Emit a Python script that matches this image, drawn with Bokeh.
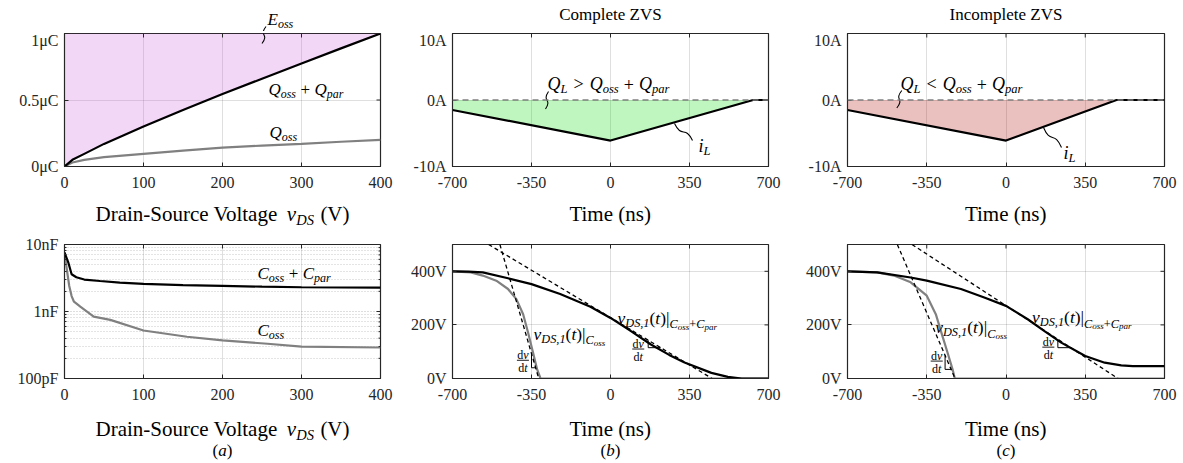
import math
from bokeh.plotting import figure
from bokeh.models import Label, FixedTicker, Span
from bokeh.layouts import column, row
from bokeh.embed import file_html
from bokeh.resources import INLINE

# ---------------- data ----------------
v_q = [0, 10, 25, 50, 100, 150, 200, 250, 300, 350, 400]
q_total = [0, 0.05, 0.095, 0.17, 0.30, 0.425, 0.545, 0.66, 0.775, 0.888, 1.0]
q_oss = [0, 0.03, 0.05, 0.07, 0.095, 0.12, 0.142, 0.157, 0.17, 0.186, 0.20]

v_c_tot = [0, 5, 9, 15, 25, 45, 70, 100, 150, 200, 250, 300, 350, 400]
c_total = [7.6, 5.3, 3.6, 3.25, 3.0, 2.85, 2.7, 2.58, 2.48, 2.41, 2.35, 2.3, 2.28, 2.27]
v_c_oss = [0, 3, 6, 9, 12, 20, 37, 58, 100, 155, 200, 257, 300, 400]
c_oss = [7.3, 4.2, 2.4, 1.7, 1.4, 1.18, 0.84, 0.75, 0.52, 0.42, 0.37, 0.33, 0.30, 0.29]

t_il_b = [-700, 0, 632, 700]
il_b = [-1.5, -6.1, 0, 0]
t_il_c = [-700, 0, 488, 700]
il_c = [-1.5, -6.1, 0, 0]

t_vt_b = [-700, -630, -566, -454, -350, -223, -89, 0, 89, 179, 260, 328, 447, 520, 581, 700]
v_vt_b = [400, 399, 396, 374, 352, 315, 268, 226, 178, 127, 88, 60, 21, 6, 0, 0]
t_vo_b = [-700, -619, -566, -506, -454, -417, -387, -365, -343, -325, -310, 700]
v_vo_b = [400, 396, 384, 365, 334, 296, 240, 171, 96, 34, 0, 0]
tan_b_steep_t = [-490, -318]
tan_b_steep_v = [500, 0]
tan_b_shal_t = [-540, 450]
tan_b_shal_v = [500, 0]

t_vt_c = [-700, -569, -421, -350, -199, -96, 0, 96, 170, 244, 350, 436, 509, 560, 700]
v_vt_c = [400, 396, 377, 365, 334, 302, 271, 221, 177, 134, 84, 59, 49, 46, 46]
t_vo_c = [-700, -569, -495, -421, -350, -310, -281, -258, -236, -226, 700]
v_vo_c = [400, 396, 384, 359, 309, 240, 159, 96, 34, 0, 0]
tan_c_steep_t = [-480, -225]
tan_c_steep_v = [500, 0]
tan_c_shal_t = [-415, 495]
tan_c_shal_v = [500, 0]

v_ticks = [0, 100, 200, 300, 400]
t_ticks = {-700: "-700", -350: "-350", 0: "0", 350: "350", 700: "700"}
q_ticks = {0: "0\u03bcC", 0.5: "0.5\u03bcC", 1: "1\u03bcC"}
c_ticks = {0.1: "100pF", 1: "1nF", 10: "10nF"}
c_minor = [0.2, 0.3, 0.4, 0.5, 0.6, 0.7, 0.8, 0.9, 2, 3, 4, 5, 6, 7, 8, 9]
i_ticks = {-10: "-10A", 0: "0A", 10: "10A"}
u_ticks = {0: "0V", 200: "200V", 400: "400V"}

# ---------------- styling / geometry ----------------
FONT = "'Liberation Serif', 'Times New Roman', serif"
TXT = "#000000"
AX = "#262626"
PINK = "#cc66dd"
GREEN = "#00dd00"
RED = "#b00800"
GRAY = "#808080"
RAISE = 0.25                   # baseline correction, fraction of font size

COL_X = [0, 400, 795]          # page x of the three columns
COL_W = [400, 395, 385]
BORDER_L = [64, 52, 52]
BORDER_R = [20, 27, 16]
FRAME_W = [316, 316, 317]
STRIP_T_H = 31
ROW1_TOP, ROW1_FH, ROW1_BOT = 2, 133, 32
STRIP_M_H = 30
ROW2_TOP, ROW2_FH, ROW2_BOT = 16, 134, 32
STRIP_B_H = 50
Y_ROW1 = STRIP_T_H
Y_STRIP_M = Y_ROW1 + ROW1_TOP + ROW1_FH + ROW1_BOT
Y_ROW2 = Y_STRIP_M + STRIP_M_H
Y_STRIP_B = Y_ROW2 + ROW2_TOP + ROW2_FH + ROW2_BOT

W_R = {' ': 250, '(': 333, ')': 333, '+': 564, '-': 333, ',': 250, '.': 250, '<': 564,
       '>': 564, '|': 200, 'A': 722, 'C': 667, 'D': 722, 'E': 611, 'I': 333, 'L': 611,
       'Q': 722, 'S': 556, 'T': 611, 'V': 722, 'Z': 611, 'a': 444, 'c': 444, 'd': 500,
       'e': 444, 'g': 500, 'i': 278, 'l': 278, 'm': 778, 'n': 500, 'o': 500, 'p': 500,
       'r': 333, 's': 389, 't': 278, 'u': 500, 'v': 500}
for _c in "0123456789":
    W_R[_c] = 500
W_I = {' ': 250, '(': 333, ')': 333, ',': 250, '1': 500, 'A': 611, 'C': 667, 'D': 722,
       'E': 611, 'L': 556, 'Q': 722, 'S': 500, 'V': 611, 'a': 500, 'b': 500, 'c': 444,
       'd': 500, 'e': 444, 'i': 278, 'l': 278, 'o': 500, 'p': 500, 'r': 389, 's': 389,
       't': 278, 'v': 444}


def run_w(r):
    if isinstance(r, (int, float)):
        return float(r)
    t, it, sz, sh = r
    tab = W_I if it else W_R
    return sum(tab.get(ch, 500) for ch in t) * sz / 1000.0


def rich(p, x, y, runs, align="left", dx=0.0, dy=0.0):
    total = sum(run_w(r) for r in runs)
    off = dx - {"left": 0.0, "center": total / 2.0, "right": total}[align]
    for r in runs:
        if not isinstance(r, (int, float)):
            t, it, sz, sh = r
            p.add_layout(Label(x=x, y=y, x_offset=off, y_offset=dy + sh + RAISE * sz,
                               text=t, text_font=FONT, text_font_size=f"{sz}px",
                               text_font_style="italic" if it else "normal",
                               text_color=TXT, text_align="left",
                               text_baseline="alphabetic"))
        off += run_w(r)


class PageMap:
    """maps page pixel coordinates onto a figure's data coordinates"""

    def __init__(self, left, top, fw, fh, xr, yr, ylog=False):
        self.left, self.top, self.fw, self.fh = left, top, fw, fh
        self.xr, self.yr, self.ylog = xr, yr, ylog

    def x(self, X):
        return self.xr[0] + (X - self.left) / self.fw * (self.xr[1] - self.xr[0])

    def y(self, Y):
        f = (self.top + self.fh - Y) / self.fh
        if self.ylog:
            a, b = math.log10(self.yr[0]), math.log10(self.yr[1])
            return 10 ** (a + f * (b - a))
        return self.yr[0] + f * (self.yr[1] - self.yr[0])


def page_text(p, m, X, Y, runs, align="left"):
    rich(p, m.x(X), m.y(Y), runs, align)


def leader(p, m, start, end, bend=5.0):
    (x0, y0), (x1, y1) = start, end
    dx, dy = x1 - x0, y1 - y0
    ln = math.hypot(dx, dy)
    nx, ny = -dy / ln, dx / ln
    c0 = (x0 + 0.65 * dx + bend * nx, y0 + 0.65 * dy + bend * ny)
    c1 = (x0 + 0.35 * dx - bend * nx, y0 + 0.35 * dy - bend * ny)
    p.bezier(x0=[m.x(x0)], y0=[m.y(y0)], x1=[m.x(x1)], y1=[m.y(y1)],
             cx0=[m.x(c0[0])], cy0=[m.y(c0[1])], cx1=[m.x(c1[0])], cy1=[m.y(c1[1])],
             line_color=TXT, line_width=1.1)


def box_ticks(p, xr, yr, xt, yt, y_minor=None):
    """tick marks on the top and right edges of the box (as MATLAB draws them)"""
    p.ray(x=list(xt), y=[yr[1]] * len(xt), length=4, length_units="screen",
          angle=-math.pi / 2, line_color=AX, line_width=1)
    p.ray(x=[xr[1]] * len(yt), y=list(yt), length=4, length_units="screen",
          angle=math.pi, line_color=AX, line_width=1)
    if y_minor:
        p.ray(x=[xr[1]] * len(y_minor), y=list(y_minor), length=2, length_units="screen",
              angle=math.pi, line_color=AX, line_width=1)


def make_fig(col, xr, yr, fh, top, bottom, y_log=False):
    p = figure(x_range=xr, y_range=yr, frame_width=FRAME_W[col], frame_height=fh,
               min_border_left=BORDER_L[col], min_border_right=BORDER_R[col],
               min_border_top=top, min_border_bottom=bottom,
               output_backend="svg", toolbar_location=None,
               y_axis_type="log" if y_log else "linear")
    p.outline_line_color = AX
    p.outline_line_width = 1.2
    p.background_fill_color = "white"
    p.border_fill_color = "white"
    for ax in p.axis:
        ax.major_label_text_font = FONT
        ax.major_label_text_font_size = "16px"
        ax.major_label_text_color = AX
        ax.axis_line_color = AX
        ax.major_tick_line_color = AX
        ax.major_tick_in = 4
        ax.major_tick_out = 0
        ax.minor_tick_line_color = None
    p.xaxis.major_label_standoff = 10
    p.yaxis.major_label_standoff = 6
    p.grid.grid_line_color = AX
    p.grid.grid_line_alpha = 0.15
    return p


def make_strip(col, h, page_top):
    w = COL_W[col]
    p = figure(width=w, height=h, frame_width=w, frame_height=h, x_range=(0, w),
               y_range=(0, h), min_border=0, toolbar_location=None, output_backend="svg",
               x_axis_location=None, y_axis_location=None)
    p.outline_line_color = None
    p.grid.visible = False
    p.background_fill_color = "white"
    p.border_fill_color = "white"
    return p, PageMap(COL_X[col], page_top, w, h, (0, w), (0, h))


def panel_map(col, row_top, border_top, fh, xr, yr, ylog=False):
    return PageMap(COL_X[col] + BORDER_L[col], row_top + border_top, FRAME_W[col], fh,
                   xr, yr, ylog)


def qsum(base, gap):
    sub = base * 0.7
    return [("Q", 1, base, 0), ("oss", 1, sub, -3.5), gap, ("+", 0, base, 0), gap,
            ("Q", 1, base, 0), ("par", 1, sub, -3.5)]


def vlabel(extra):
    r = [("v", 1, 17.5, 0), ("DS,1", 1, 12.3, -3.5), ("(", 0, 17.5, 0), ("t", 1, 17.5, 0),
         (")", 0, 17.5, 0), ("|", 0, 17.5, 0), ("C", 1, 12.3, -5), ("oss", 1, 9, -7)]
    if extra:
        r += [("+", 0, 12.3, -5), ("C", 1, 12.3, -5), ("par", 1, 9, -7)]
    return r


def dvdt(p, t, v, kx):
    rich(p, t, v, [("d", 0, 12, 0), ("v", 1, 12, 0)], "center", dy=2)
    rich(p, t, v, [("d", 0, 12, 0), ("t", 1, 12, 0)], "center", dy=-10.5)
    p.segment(x0=[t - 6 * kx], y0=[v], x1=[t + 6 * kx], y1=[v], line_color=TXT,
              line_width=0.9)


def tri(p, tl, vl, t, vbot):
    slope = (vl[1] - vl[0]) / (tl[1] - tl[0])
    vtop = vl[0] + slope * (t - tl[0])
    t2 = tl[0] + (vbot - vl[0]) / slope
    p.line([t, t, t2], [vtop, vbot, vbot], line_color=TXT, line_width=1)


VDS_RUNS = [("Drain-Source Voltage", 0, 21, 0), 6.5, ("v", 1, 21, 0), ("DS", 1, 14.5, -4),
            6.5, ("(V)", 0, 21, 0)]
TIME_RUNS = [("Time (ns)", 0, 21, 0)]
KX = 1400.0 / 316.0
CENTER_X = [COL_X[i] + BORDER_L[i] + FRAME_W[i] / 2.0 for i in range(3)]

# ---------------- text strips ----------------
sT = [make_strip(i, STRIP_T_H, 0) for i in range(3)]
sM = [make_strip(i, STRIP_M_H, Y_STRIP_M) for i in range(3)]
sB = [make_strip(i, STRIP_B_H, Y_STRIP_B) for i in range(3)]

page_text(sT[0][0], sT[0][1], 267, 23, [("E", 1, 17, 0), ("oss", 1, 12, -3.5)])
page_text(sT[1][0], sT[1][1], CENTER_X[1], 18.5, [("Complete ZVS", 0, 17, 0)], "center")
page_text(sT[2][0], sT[2][1], CENTER_X[2], 18.5, [("Incomplete ZVS", 0, 17, 0)], "center")
page_text(sM[0][0], sM[0][1], CENTER_X[0], 219, VDS_RUNS, "center")
page_text(sM[1][0], sM[1][1], CENTER_X[1], 219, TIME_RUNS, "center")
page_text(sM[2][0], sM[2][1], CENTER_X[2], 219, TIME_RUNS, "center")
page_text(sB[0][0], sB[0][1], CENTER_X[0], 434, VDS_RUNS, "center")
page_text(sB[1][0], sB[1][1], CENTER_X[1], 434, TIME_RUNS, "center")
page_text(sB[2][0], sB[2][1], CENTER_X[2], 434, TIME_RUNS, "center")
for i, letter in enumerate("abc"):
    page_text(sB[i][0], sB[i][1], CENTER_X[i], 454,
              [("(", 0, 17, 0), (letter, 1, 17, 0), (")", 0, 17, 0)], "center")

# ---------------- (a) top: charge ----------------
pA = make_fig(0, (0, 400), (0, 1), ROW1_FH, ROW1_TOP, ROW1_BOT)
mA = panel_map(0, Y_ROW1, ROW1_TOP, ROW1_FH, (0, 400), (0, 1))
pA.xaxis.ticker = FixedTicker(ticks=v_ticks)
pA.yaxis.ticker = FixedTicker(ticks=list(q_ticks.keys()))
pA.yaxis.major_label_overrides = q_ticks
pA.varea(x=v_q, y1=q_total, y2=1.0, fill_color=PINK, fill_alpha=0.26)
pA.line(v_q, q_oss, line_color=GRAY, line_width=2.2)
pA.line(v_q, q_total, line_color="black", line_width=2.2)
box_ticks(pA, (0, 400), (0, 1), v_ticks, q_ticks.keys())
page_text(pA, mA, 268, 93, qsum(17, 4.5))
page_text(pA, mA, 269, 136, [("Q", 1, 17, 0), ("oss", 1, 12, -3.5)])
E_LEAD = ((265.5, 26), (261.5, 43))
leader(pA, mA, *E_LEAD)
leader(sT[0][0], sT[0][1], *E_LEAD)

# ---------------- (a) bottom: capacitance ----------------
pD = make_fig(0, (0, 400), (0.1, 10), ROW2_FH, ROW2_TOP, ROW2_BOT, y_log=True)
mD = panel_map(0, Y_ROW2, ROW2_TOP, ROW2_FH, (0, 400), (0.1, 10), ylog=True)
pD.xaxis.ticker = FixedTicker(ticks=v_ticks)
pD.yaxis.ticker = FixedTicker(ticks=list(c_ticks.keys()), minor_ticks=c_minor)
pD.yaxis.major_label_overrides = c_ticks
pD.yaxis.minor_tick_line_color = AX
pD.yaxis.minor_tick_in = 2
pD.yaxis.minor_tick_out = 0
pD.ygrid.grid_line_dash = "1 2"
pD.ygrid.grid_line_alpha = 0.3
pD.ygrid.minor_grid_line_color = AX
pD.ygrid.minor_grid_line_alpha = 0.25
pD.ygrid.minor_grid_line_dash = "1 2"
pD.line(v_c_oss, c_oss, line_color=GRAY, line_width=2.2)
pD.line(v_c_tot, c_total, line_color="black", line_width=2.2)
box_ticks(pD, (0, 400), (0.1, 10), v_ticks, c_ticks.keys(), c_minor)
page_text(pD, mD, 257, 277, [("C", 1, 17, 0), ("oss", 1, 12, -3.5), 4.5, ("+", 0, 17, 0),
                             4.5, ("C", 1, 17, 0), ("par", 1, 12, -3.5)])
page_text(pD, mD, 257, 334, [("C", 1, 17, 0), ("oss", 1, 12, -3.5)])


# ---------------- (b)/(c) top: inductor current ----------------
def current_fig(col, t_il, il, fill, rel, q_at, q_lead, il_at, il_lead):
    xr, yr = (-700, 700), (-10, 10)
    p = make_fig(col, xr, yr, ROW1_FH, ROW1_TOP, ROW1_BOT)
    m = panel_map(col, Y_ROW1, ROW1_TOP, ROW1_FH, xr, yr)
    p.xaxis.ticker = FixedTicker(ticks=list(t_ticks.keys()))
    p.xaxis.major_label_overrides = t_ticks
    p.yaxis.ticker = FixedTicker(ticks=list(i_ticks.keys()))
    p.yaxis.major_label_overrides = i_ticks
    p.varea(x=t_il, y1=il, y2=0, fill_color=fill, fill_alpha=0.25)
    p.add_layout(Span(location=0, dimension="width", line_color=GRAY,
                      line_dash="6 4", line_width=1.6))
    p.line(t_il, il, line_color="black", line_width=2.2)
    box_ticks(p, xr, yr, t_ticks.keys(), i_ticks.keys())
    page_text(p, m, q_at[0], q_at[1],
              [("Q", 1, 18, 0), ("L", 1, 12.6, -3.5), 6, (rel, 0, 18, 0), 6] + qsum(18, 5))
    leader(p, m, *q_lead)
    page_text(p, m, il_at[0], il_at[1], [("i", 1, 18, 0), ("L", 1, 12.6, -3.5)])
    leader(p, m, *il_lead, bend=6)
    return p


pB = current_fig(1, t_il_b, il_b, GREEN, ">", (547, 88), ((548, 91), (545, 108.5)),
                 (698, 150), ((674, 123), (692, 140)))
pC = current_fig(2, t_il_c, il_c, RED, "<", (900, 88), ((901.3, 90), (896.3, 107.5)),
                 (1063, 157), ((1043, 127), (1061, 147)))


# ---------------- (b)/(c) bottom: drain-source voltage ----------------
def voltage_fig(col, tt, vt, to, vo, st_t, st_v, sh_t, sh_v,
                lab1, lab2, f1, f2, tri1, tri2):
    xr, yr = (-700, 700), (0, 500)
    p = make_fig(col, xr, yr, ROW2_FH, ROW2_TOP, ROW2_BOT)
    p.xaxis.ticker = FixedTicker(ticks=list(t_ticks.keys()))
    p.xaxis.major_label_overrides = t_ticks
    p.yaxis.ticker = FixedTicker(ticks=list(u_ticks.keys()))
    p.yaxis.major_label_overrides = u_ticks
    p.line(to, vo, line_color=GRAY, line_width=2.2)
    p.line(tt, vt, line_color="black", line_width=2.2)
    p.line(st_t, st_v, line_color="black", line_width=1.3, line_dash="4 3")
    p.line(sh_t, sh_v, line_color="black", line_width=1.3, line_dash="4 3")
    box_ticks(p, xr, yr, t_ticks.keys(), u_ticks.keys())
    tri(p, st_t, st_v, tri1[0], tri1[1])
    tri(p, sh_t, sh_v, tri2[0], tri2[1])
    rich(p, lab1[0], lab1[1], vlabel(False))
    rich(p, lab2[0], lab2[1], vlabel(True))
    dvdt(p, f1[0], f1[1], KX)
    dvdt(p, f2[0], f2[1], KX)
    return p


pE = voltage_fig(1, t_vt_b, v_vt_b, t_vo_b, v_vo_b,
                 tan_b_steep_t, tan_b_steep_v, tan_b_shal_t, tan_b_shal_v,
                 (-341, 150), (31, 210), (-388, 68), (123, 110), (-350, 40), (167, 115))
pF = voltage_fig(2, t_vt_c, v_vt_c, t_vo_c, v_vo_c,
                 tan_c_steep_t, tan_c_steep_v, tan_c_shal_t, tan_c_shal_v,
                 (-313, 175), (115, 212), (-306, 65), (187, 117), (-269, 34), (229, 115))

layout = column(
    row(*[s[0] for s in sT]),
    row(pA, pB, pC),
    row(*[s[0] for s in sM]),
    row(pD, pE, pF),
    row(*[s[0] for s in sB]),
)
open("out.html", "w").write(file_html(layout, INLINE))
